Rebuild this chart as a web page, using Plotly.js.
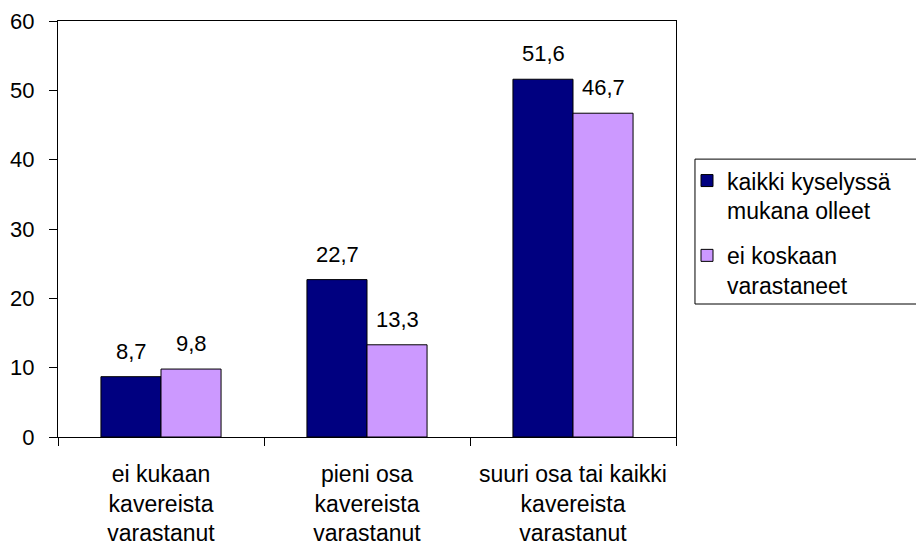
<!DOCTYPE html>
<html>
<head>
<meta charset="utf-8">
<script src="https://cdn.plot.ly/plotly-3.0.1.min.js"></script>
<style>html,body{margin:0;padding:0;background:#fff;}#chart{width:916px;height:545px;}</style>
</head>
<body>
<div id="chart"></div>
<script>
var categories = ["ei kukaan<br>kavereista<br>varastanut", "pieni osa<br>kavereista<br>varastanut", "suuri osa tai kaikki<br>kavereista<br>varastanut"];
var seriesNames = ["kaikki kyselyssä<br>mukana olleet", "ei koskaan<br>varastaneet"];
var seriesAll = [8.7, 22.7, 51.6];
var seriesNever = [9.8, 13.3, 46.7];
var seriesColors = ["#000080", "#CC99FF"];
var yTicks = [0, 10, 20, 30, 40, 50, 60];

var FONT = "Liberation Sans, Arial, sans-serif";
var allSeries = [seriesAll, seriesNever];

var traces = allSeries.map(function (vals, i) {
  return {
    type: "bar",
    x: categories,
    y: vals,
    name: seriesNames[i],
    legendgroup: "g" + i,
    marker: { color: seriesColors[i], line: { color: "#000", width: 1 } },
    hoverinfo: "none"
  };
});

var annotations = [];
var barHalf = 30;
allSeries.forEach(function (vals, i) {
  vals.forEach(function (v, j) {
    annotations.push({
      x: categories[j], y: v, xref: "x", yref: "y",
      text: v.toFixed(1).replace(".", ","),
      showarrow: false, yanchor: "bottom",
      xshift: (i === 0 ? -barHalf : barHalf), yshift: 11,
      font: { family: FONT, size: 22, color: "#000" }
    });
  });
});

var layout = {
  width: 916, height: 545,
  margin: { l: 58, r: 240, t: 21, b: 108 },
  paper_bgcolor: "#fff", plot_bgcolor: "#fff",
  font: { family: FONT, size: 22, color: "#000" },
  barmode: "group", bargap: 0.417, bargroupgap: 0,
  showlegend: true,
  legend: {
    x: 1.0178, xanchor: "left", y: 0.668, yanchor: "top",
    borderwidth: 0, bgcolor: "rgba(0,0,0,0)",
    font: { family: FONT, size: 23, color: "#000" },
    valign: "top", traceorder: "grouped", tracegroupgap: 12
  },
  shapes: [{
    type: "rect", xref: "paper", yref: "paper",
    x0: 1.0307, x1: 1.4, y0: 0.3197, y1: 0.668,
    line: { color: "#000", width: 1 }, fillcolor: "rgba(0,0,0,0)", layer: "below"
  }],
  xaxis: {
    type: "category", tickson: "boundaries",
    ticks: "outside", ticklen: 8, tickcolor: "#000", tickwidth: 1,
    showline: true, linecolor: "#000", linewidth: 1, mirror: true,
    showgrid: false, zeroline: false,
    tickfont: { family: FONT, size: 23, color: "#000" },
    ticklabelstandoff: 16,
    fixedrange: true
  },
  yaxis: {
    range: [0, 60], tickvals: yTicks,
    ticks: "outside", ticklen: 8, tickcolor: "#000", tickwidth: 1,
    showline: true, linecolor: "#000", linewidth: 1, mirror: true,
    showgrid: false, zeroline: false,
    tickfont: { family: FONT, size: 22, color: "#000" },
    ticklabelstandoff: 10,
    fixedrange: true
  },
  annotations: annotations
};

Plotly.newPlot("chart", traces, layout, { staticPlot: true, displayModeBar: false });
</script>
</body>
</html>
